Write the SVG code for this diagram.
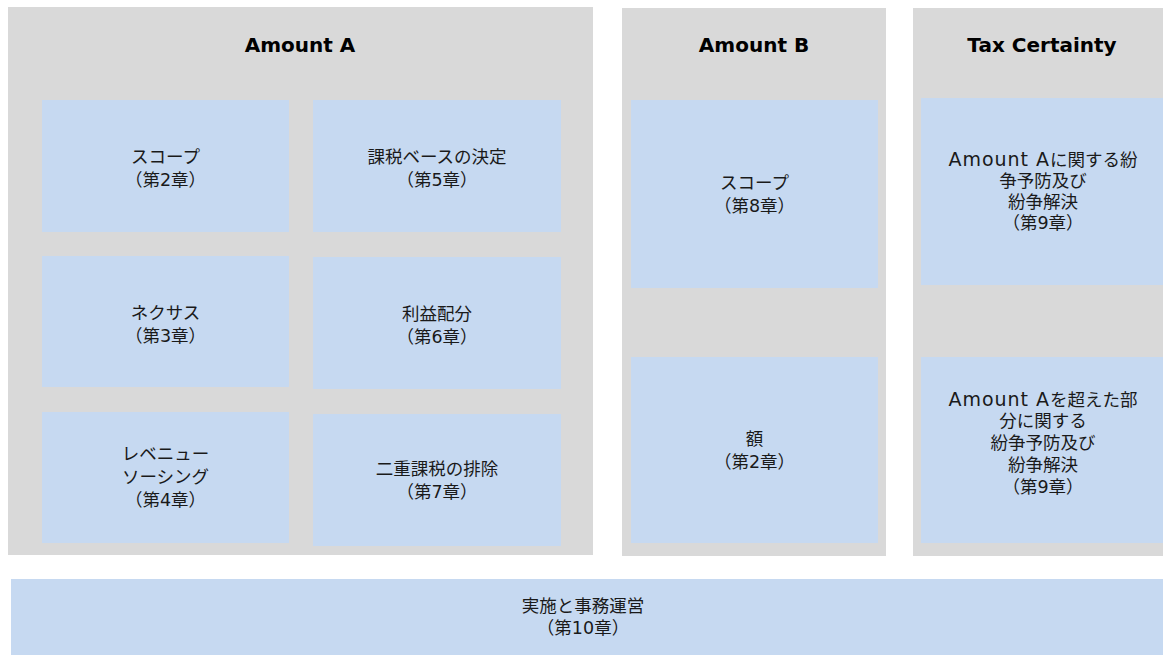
<svg xmlns="http://www.w3.org/2000/svg" width="1163" height="655" viewBox="0 0 1163 655">
<style>
.panel{fill:#D9D9D9}
.box{fill:#C6D9F1}
.title{font-family:"DejaVu Sans","Liberation Sans",sans-serif;font-weight:bold;font-size:20px;fill:#000;text-anchor:middle}
.lbl{font-family:"DejaVu Sans","Noto Sans CJK JP",sans-serif;font-size:17.5px;fill:#1a1a1a;text-anchor:middle}
.lat{font-size:19px;letter-spacing:1px}
</style>
<rect width="1163" height="655" fill="#FFFFFF"/>
<g id="panel-amount-a">
<rect class="panel" x="8" y="7" width="585" height="548"/>
<text class="title" x="300" y="52">Amount A</text>
</g>
<g id="panel-amount-b">
<rect class="panel" x="622" y="8" width="264" height="548"/>
<text class="title" x="754" y="52">Amount B</text>
</g>
<g id="panel-tax-certainty">
<rect class="panel" x="913" y="8" width="260" height="548"/>
<text class="title" x="1042" y="52">Tax Certainty</text>
</g>
<g id="a-scope">
<rect class="box" x="42" y="100" width="247" height="132"/>
<text class="lbl" x="165.5" y="163">スコープ</text>
<text class="lbl" x="165.5" y="186">（第2章）</text>
</g>
<g id="a-taxbase">
<rect class="box" x="313" y="100" width="248" height="132"/>
<text class="lbl" x="437" y="163">課税ベースの決定</text>
<text class="lbl" x="437" y="186">（第5章）</text>
</g>
<g id="a-nexus">
<rect class="box" x="42" y="256" width="247" height="131"/>
<text class="lbl" x="165.5" y="319">ネクサス</text>
<text class="lbl" x="165.5" y="342">（第3章）</text>
</g>
<g id="a-allocation">
<rect class="box" x="313" y="257" width="248" height="132"/>
<text class="lbl" x="437" y="320">利益配分</text>
<text class="lbl" x="437" y="343">（第6章）</text>
</g>
<g id="a-sourcing">
<rect class="box" x="42" y="412" width="247" height="131"/>
<text class="lbl" x="165.5" y="460">レベニュー</text>
<text class="lbl" x="165.5" y="483">ソーシング</text>
<text class="lbl" x="165.5" y="506">（第4章）</text>
</g>
<g id="a-double-tax">
<rect class="box" x="313" y="414" width="248" height="132"/>
<text class="lbl" x="437" y="475">二重課税の排除</text>
<text class="lbl" x="437" y="498">（第7章）</text>
</g>
<g id="b-scope">
<rect class="box" x="631" y="100" width="247" height="188"/>
<text class="lbl" x="754.5" y="189">スコープ</text>
<text class="lbl" x="754.5" y="212">（第8章）</text>
</g>
<g id="b-amount">
<rect class="box" x="631" y="357" width="247" height="186"/>
<text class="lbl" x="754.5" y="445">額</text>
<text class="lbl" x="754.5" y="468">（第2章）</text>
</g>
<g id="t-amount-a">
<rect class="box" x="921" y="98" width="250" height="187"/>
<text class="lbl" x="1043" y="166"><tspan class="lat">Amount A</tspan>に関する紛</text>
<text class="lbl" x="1043" y="187">争予防及び</text>
<text class="lbl" x="1043" y="208">紛争解決</text>
<text class="lbl" x="1043" y="229">（第9章）</text>
</g>
<g id="t-beyond">
<rect class="box" x="921" y="357" width="250" height="186"/>
<text class="lbl" x="1043" y="406"><tspan class="lat">Amount A</tspan>を超えた部</text>
<text class="lbl" x="1043" y="427">分に関する</text>
<text class="lbl" x="1043" y="449">紛争予防及び</text>
<text class="lbl" x="1043" y="471">紛争解決</text>
<text class="lbl" x="1043" y="493">（第9章）</text>
</g>
<g id="implementation">
<rect class="box" x="11" y="579" width="1160" height="80"/>
<text class="lbl" x="583" y="612">実施と事務運営</text>
<text class="lbl" x="583" y="634">（第10章）</text>
</g>
<g id="connectors"></g>
</svg>
